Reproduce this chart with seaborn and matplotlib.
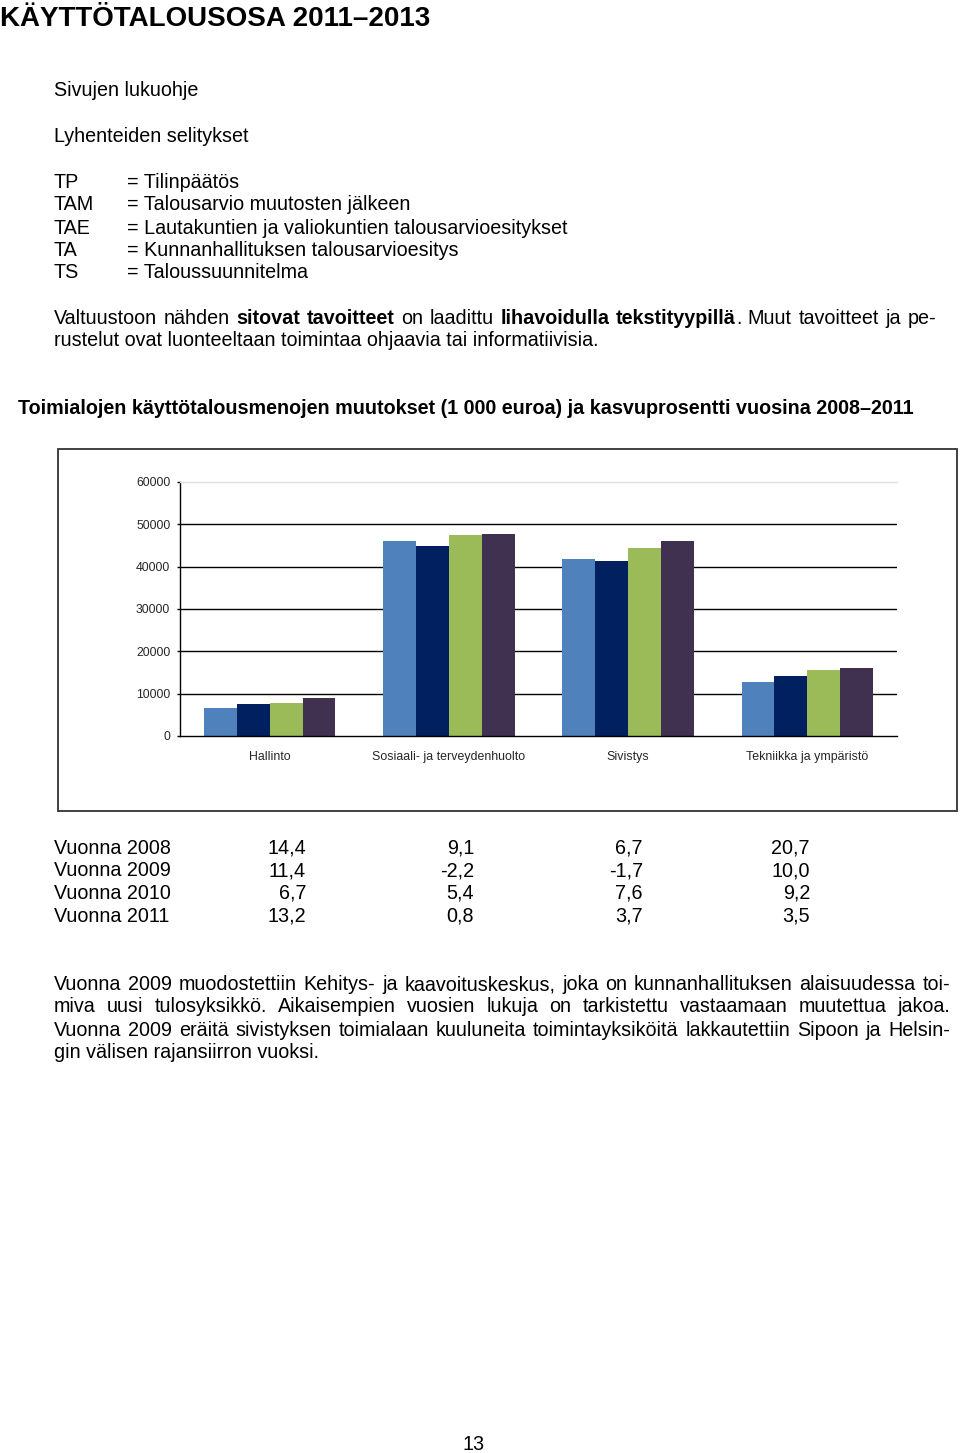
import numpy as np
import pandas as pd
import matplotlib
matplotlib.use("Agg")
import matplotlib.pyplot as plt
import matplotlib.patches as mpatches
import seaborn as sns

# ---------------- data ----------------
categories = ["Hallinto", "Sosiaali- ja terveydenhuolto", "Sivistys", "Tekniikka ja ympäristö"]
years = ["2008", "2009", "2010", "2011"]
v2008 = [6700, 46000, 41800, 12800]
v2009 = [7500, 44900, 41400, 14100]
v2010 = [7900, 47400, 44400, 15500]
v2011 = [8900, 47800, 46000, 16100]
bar_colors = ["#4F81BD", "#002060", "#9BBB59", "#403151"]
yticks = [0, 10000, 20000, 30000, 40000, 50000, 60000]

row_labels = ["Vuonna 2008", "Vuonna 2009", "Vuonna 2010", "Vuonna 2011"]
pct_hallinto = ["14,4", "11,4", "6,7", "13,2"]
pct_sosiaali = ["9,1", "-2,2", "5,4", "0,8"]
pct_sivistys = ["6,7", "-1,7", "7,6", "3,7"]
pct_tekniikka = ["20,7", "10,0", "9,2", "3,5"]

abbr = ["TP", "TAM", "TAE", "TA", "TS"]
abbr_text = ["= Tilinpäätös", "= Talousarvio muutosten jälkeen",
             "= Lautakuntien ja valiokuntien talousarvioesitykset",
             "= Kunnanhallituksen talousarvioesitys", "= Taloussuunnitelma"]

# ---------------- figure ----------------
sns.set_theme(style="white")
plt.rcParams['font.family'] = ['Liberation Sans', 'DejaVu Sans']
W, H = 960, 1453
fig = plt.figure(figsize=(W / 100, H / 100), dpi=100)
fig.patch.set_facecolor("white")
renderer = fig.canvas.get_renderer()

def fx(x):
    return x / W

def fy(y):
    return 1 - y / H

BODY = 14.2

def txt(x, y, s, size=BODY, weight="normal", ha="left", va="center"):
    return fig.text(fx(x), fy(y), s, fontsize=size, fontweight=weight, ha=ha, va=va, color="black")

def runs_line(x0, y, runs, size=BODY, justify_to=None):
    words = [[]]
    for text, wt in runs:
        parts = text.split(' ')
        for i, p in enumerate(parts):
            if i > 0:
                words.append([])
            if p:
                words[-1].append((p, wt))
    words = [w for w in words if w]
    placed = []
    total = 0
    for w in words:
        segs = []
        ww = 0
        for s, wt in w:
            t = txt(x0, y, s, size=size, weight=wt)
            bw = t.get_window_extent(renderer).width
            segs.append((t, bw))
            ww += bw
        placed.append((segs, ww))
        total += ww
    t1 = fig.text(0, 0, "a a", fontsize=size)
    t2 = fig.text(0, 0, "aa", fontsize=size)
    space = t1.get_window_extent(renderer).width - t2.get_window_extent(renderer).width
    t1.remove()
    t2.remove()
    if justify_to is not None and len(placed) > 1:
        gap = (justify_to - x0 - total) / (len(placed) - 1)
    else:
        gap = space
    x = x0
    for segs, ww in placed:
        for t, bw in segs:
            t.set_x(fx(x))
            x += bw
        x += gap

# header
txt(0, 19, "KÄYTTÖTALOUSOSA 2011–2013", size=20, weight="bold")
txt(54, 91, "Sivujen lukuohje")
txt(54, 136, "Lyhenteiden selitykset")
for i, (a, t) in enumerate(zip(abbr, abbr_text)):
    yy = [182, 205, 228, 250, 273][i]
    txt(54, yy, a)
    txt(127, yy, t)

runs_line(54, 318, [("Valtuustoon nähden ", "normal"), ("sitovat tavoitteet", "bold"),
                    (" on laadittu ", "normal"), ("lihavoidulla tekstityypillä", "bold"),
                    (". Muut tavoitteet ja pe-", "normal")], justify_to=936)
txt(54, 341, "rustelut ovat luonteeltaan toimintaa ohjaavia tai informatiivisia.")

txt(18, 409, "Toimialojen käyttötalousmenojen muutokset (1 000 euroa) ja kasvuprosentti vuosina 2008–2011",
    size=14.2, weight="bold")

# chart frame
rect = mpatches.Rectangle((fx(58), fy(811)), fx(957) - fx(58), fy(449) - fy(811),
                          transform=fig.transFigure, fill=False, edgecolor="#333333", linewidth=1.3)
fig.patches.append(rect)

# bar chart
ax = fig.add_axes([fx(180), fy(736), fx(897) - fx(180), fy(482) - fy(736)])
df = pd.DataFrame({
    "category": np.repeat(categories, len(years)),
    "year": years * len(categories),
    "value": np.array([v2008, v2009, v2010, v2011]).T.ravel(),
})
sns.barplot(data=df, x="category", y="value", hue="year", order=categories, hue_order=years,
            palette=bar_colors, width=0.735, gap=0, saturation=1, ax=ax, legend=False,
            edgecolor="none", linewidth=0)
ax.set_facecolor("none")
ax.set_xlim(-0.5, 3.5)
ax.set_ylim(0, 60000)
ax.set_yticks(yticks)
ax.set_yticklabels([str(v) for v in yticks], fontsize=8.7)
for v in yticks[1:-1]:
    ax.axhline(v, color="black", linewidth=1.0, zorder=0)
ax.set_xticks(range(len(categories)))
ax.set_xticklabels(categories, fontsize=8.9)
ax.set_xticks([-0.5, 0.5, 1.5, 2.5, 3.5], minor=True)
ax.tick_params(axis="x", which="major", length=0, pad=11)
ax.tick_params(axis="x", which="minor", length=4, width=1, color="black", direction="out")
ax.tick_params(axis="y", length=2.5, width=1, color="black", direction="out", pad=4.5, left=True)
ax.set_xlabel("")
ax.set_ylabel("")
ax.spines["right"].set_visible(False)
ax.spines["top"].set_color("#e0e0e0")
ax.spines["top"].set_linewidth(1.0)
for side in ["left", "bottom"]:
    ax.spines[side].set_color("black")
    ax.spines[side].set_linewidth(1.0)

# percentage table
cols = [pct_hallinto, pct_sosiaali, pct_sivistys, pct_tekniikka]
col_x = [306, 474, 643, 810]
row_y = [848, 871, 893, 916]
for r, lab in enumerate(row_labels):
    txt(54, row_y[r], lab)
    for c, vals in enumerate(cols):
        txt(col_x[c], row_y[r], vals[r], ha="right")

# bottom paragraph
runs_line(54, 985, [("Vuonna 2009 muodostettiin Kehitys- ja kaavoituskeskus, joka on kunnanhallituksen alaisuudessa toi-", "normal")], justify_to=950)
runs_line(54, 1007, [("miva uusi tulosyksikkö. Aikaisempien vuosien lukuja on tarkistettu vastaamaan muutettua jakoa.", "normal")], justify_to=950)
runs_line(54, 1030, [("Vuonna 2009 eräitä sivistyksen toimialaan kuuluneita toimintayksiköitä lakkautettiin Sipoon ja Helsin-", "normal")], justify_to=950)
txt(54, 1052, "gin välisen rajansiirron vuoksi.")

txt(474, 1445, "13", ha="center")

fig.savefig("out.png", dpi=100, facecolor="white")
